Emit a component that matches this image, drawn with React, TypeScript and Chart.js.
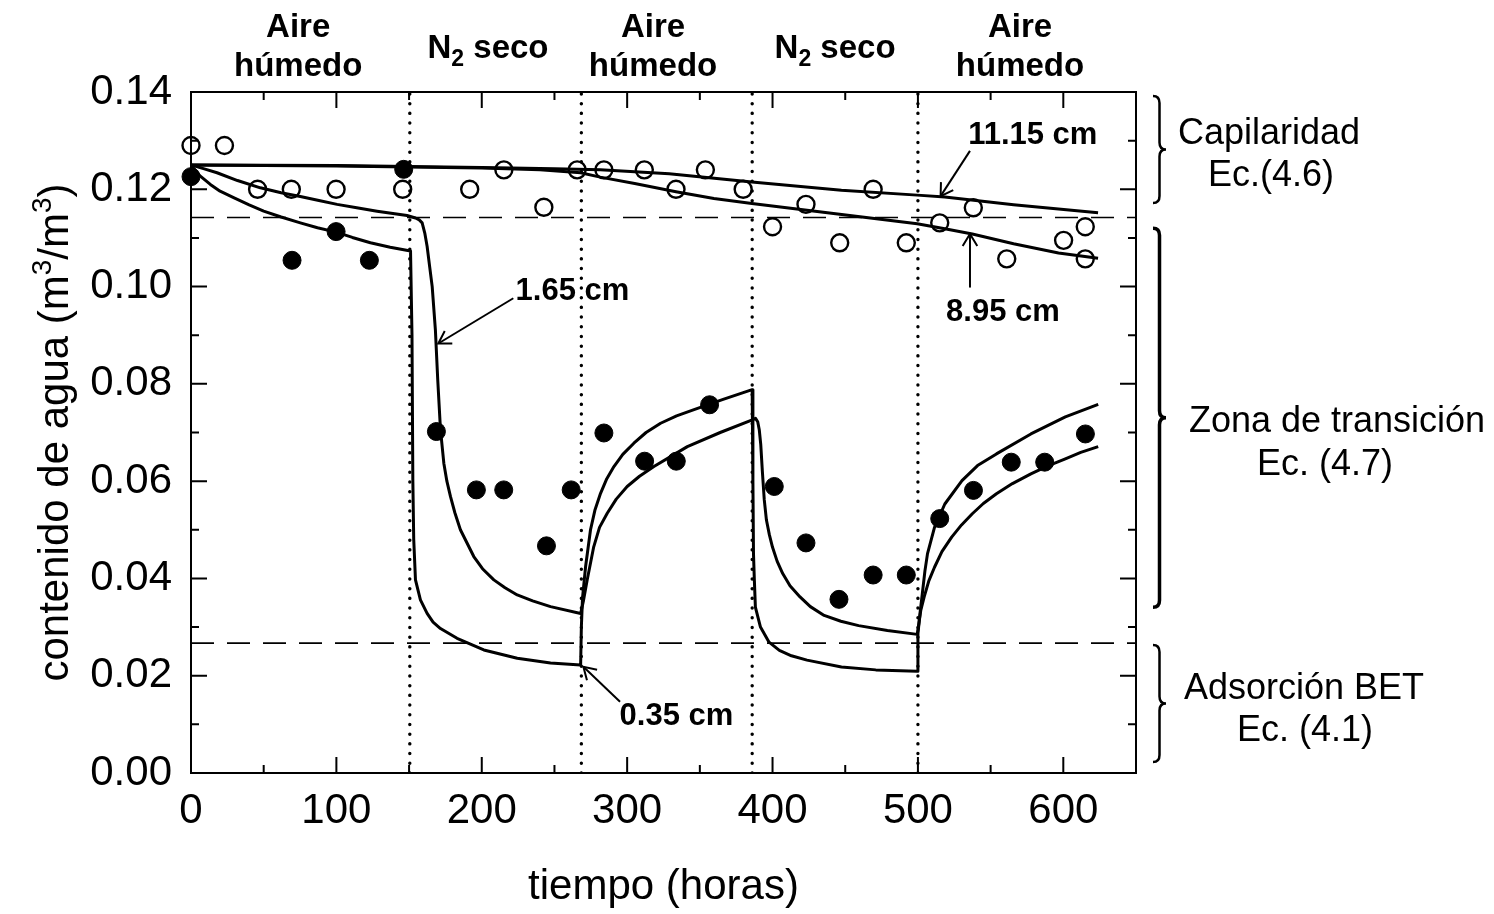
import React, { useEffect, useRef } from "react";
import { Chart, registerables } from "chart.js";

Chart.register(...registerables);

// ---------- axes ----------
const X_MIN = 0;
const X_MAX = 650;
const Y_MIN = 0;
const Y_MAX = 0.14;
const X_MAJOR_TICKS = [0, 100, 200, 300, 400, 500, 600];
const X_MINOR_TICKS = [50, 150, 250, 350, 450, 550];
const Y_MAJOR_TICKS = [0, 0.02, 0.04, 0.06, 0.08, 0.1, 0.12, 0.14];
const Y_MINOR_TICKS = [0.01, 0.03, 0.05, 0.07, 0.09, 0.11, 0.13];

// ---------- measured points ----------
const OPEN_X = [0, 23, 45.8, 69, 99.8, 145.6, 191.7, 215.2, 242.7, 265.6, 284, 311.8, 333.6, 353.8, 379.8, 400, 423, 446.2, 469.2, 492, 515, 538.1, 561.1, 600.2, 615.1, 615.1];
const OPEN_Y = [0.129, 0.129, 0.12, 0.12, 0.12, 0.12, 0.12, 0.124, 0.1163, 0.124, 0.124, 0.124, 0.12, 0.124, 0.12, 0.1123, 0.1169, 0.109, 0.12, 0.109, 0.1131, 0.1162, 0.1057, 0.1095, 0.1123, 0.1057];

const FILLED_X = [0, 69.5, 99.8, 122.7, 146.3, 168.8, 196.3, 215.1, 244.5, 261.5, 284, 312, 333.8, 356.7, 401.2, 423, 445.7, 469.2, 492, 515, 538.2, 564.2, 587.2, 615.2];
const FILLED_Y = [0.1226, 0.1054, 0.1113, 0.1054, 0.1241, 0.0702, 0.0582, 0.0582, 0.0467, 0.0582, 0.0699, 0.0641, 0.0641, 0.0757, 0.0589, 0.0473, 0.0357, 0.0407, 0.0407, 0.0523, 0.0581, 0.0639, 0.0639, 0.0697];

// ---------- model curves ----------
const CURVE_035: [number, number][] = [
  [0, 0.125], [6, 0.1228], [13.3, 0.121], [20, 0.1196], [29.3, 0.1183], [40, 0.1168], [50, 0.1155], [62, 0.1143],
  [75.2, 0.1131], [87, 0.1121], [99.8, 0.1112], [111, 0.1101], [123.4, 0.109], [137, 0.1081], [151, 0.1073],
  [152, 0.09], [152.6, 0.06], [153.2, 0.048], [154.4, 0.0397], [157.8, 0.0356], [162.4, 0.0328], [166.5, 0.031],
  [171.6, 0.0297], [183, 0.0277], [201.4, 0.0253], [224.4, 0.0236], [247.3, 0.0226], [268, 0.0222],
  [268.5, 0.03], [269.3, 0.036], [271.4, 0.0424], [274.8, 0.05], [277.8, 0.054], [281.7, 0.0575], [286, 0.0605],
  [290.9, 0.063], [297, 0.0655], [304.6, 0.0678], [313, 0.07], [323, 0.0719], [334, 0.0734], [346, 0.0747],
  [366, 0.0768], [386, 0.0788], [386.5, 0.06], [386.9, 0.045], [387.5, 0.0396], [388.2, 0.0341], [391.7, 0.03],
  [397.6, 0.0269], [404.7, 0.0252], [413, 0.0241], [423.7, 0.0232], [447.4, 0.0218], [471, 0.0212], [499.5, 0.0209],
  [500, 0.0286], [501.5, 0.033], [503, 0.0368], [504.8, 0.0415], [506.6, 0.0451], [511.4, 0.0505], [518.5, 0.0553],
  [530.3, 0.0601], [541, 0.0632], [554, 0.0656], [577.7, 0.0697], [601.4, 0.0732], [624, 0.0758],
];

const CURVE_165: [number, number][] = [
  [0, 0.125], [8, 0.1243], [17.9, 0.1234], [32, 0.1218], [47.7, 0.1203], [62, 0.1193], [75.2, 0.1185], [88, 0.1177],
  [100.5, 0.1169], [114, 0.1162], [128, 0.1155], [148.6, 0.1146], [154.4, 0.1141], [157, 0.1137], [159, 0.1131],
  [160.8, 0.111], [162.4, 0.1083], [164.2, 0.104], [165.9, 0.1], [168.1, 0.0911], [169.7, 0.0809], [171.6, 0.0706],
  [173.9, 0.0637], [176, 0.06], [178.5, 0.0568], [181.5, 0.0535], [185.3, 0.05], [194.5, 0.0445], [200.5, 0.042],
  [208.3, 0.0397], [216, 0.0381], [224.4, 0.0366], [235, 0.0354], [247.3, 0.0342], [268, 0.0328],
  [270, 0.0355], [272.5, 0.0397], [277, 0.0465], [281, 0.0505], [286.3, 0.0534], [292.5, 0.0563], [300, 0.0589],
  [308.5, 0.061], [318.4, 0.063], [341.4, 0.0671], [364, 0.07], [386.1, 0.0726], [388.3, 0.0729], [389.8, 0.0722],
  [390.9, 0.0705], [391.9, 0.0675], [393, 0.062], [394.3, 0.0562], [395.8, 0.052], [397.8, 0.049], [400, 0.0464],
  [403.2, 0.0435], [407, 0.041], [412, 0.0385], [418.9, 0.0362], [426, 0.0342], [435.5, 0.0324], [447, 0.0312],
  [459.2, 0.0303], [479, 0.0293], [499.5, 0.0285], [500.3, 0.03], [502, 0.0335], [504.3, 0.0362], [507.5, 0.0395],
  [511.4, 0.0423], [516.5, 0.0455], [523.2, 0.0485], [530, 0.051], [537.4, 0.0533], [545, 0.0554], [554, 0.0574],
  [565, 0.0595], [577.7, 0.0615], [589, 0.0631], [601.4, 0.0646], [612, 0.0659], [624, 0.0671],
];

const CURVE_895: [number, number][] = [
  [0, 0.125], [50, 0.1249], [100, 0.1248], [150, 0.1246], [200, 0.1244], [240, 0.124], [268, 0.1234], [281.5, 0.1225],
  [305.2, 0.1212], [333.6, 0.1195], [359.7, 0.1181], [385.8, 0.1171], [423.7, 0.1157], [461.6, 0.1143], [499.5, 0.1129],
  [518.5, 0.1119], [537.4, 0.1108], [565.8, 0.1088], [596.7, 0.1069], [623.9, 0.1058],
];

const CURVE_1115: [number, number][] = [
  [0, 0.125], [100, 0.1249], [150, 0.1247], [200, 0.1245], [250, 0.1242], [281.5, 0.124], [328.9, 0.1232],
  [385.8, 0.1215], [447.4, 0.1198], [499.5, 0.1188], [518.5, 0.1184], [565.8, 0.1168], [623.9, 0.1152],
];

// ---------- reference lines ----------
const SWITCH_TIMES = [150.5, 268.5, 386, 500];
const REGIME_LIMITS = [0.1142, 0.0267];

// ---------- text ----------
const X_TITLE = "tiempo (horas)";
const PHASES = [
  { x: 73.7, kind: "aire" },
  { x: 204.3, kind: "n2" },
  { x: 317.8, kind: "aire" },
  { x: 443, kind: "n2" },
  { x: 570.2, kind: "aire" },
];
const CURVE_NOTES = [
  { text: "1.65 cm", tx: 262.4, ty: 0.0989, fromX: 221.7, fromY: 0.0976, toX: 170.1, toY: 0.0883 },
  { text: "11.15 cm", tx: 579, ty: 0.131, fromX: 535.8, fromY: 0.1279, toX: 515.6, toY: 0.1186 },
  { text: "8.95 cm", tx: 558.5, ty: 0.0947, fromX: 535.8, fromY: 0.0998, toX: 535.8, toY: 0.1108 },
  { text: "0.35 cm", tx: 333.9, ty: 0.01155, fromX: 295.1, fromY: 0.01466, toX: 269.9, toY: 0.02185 },
];
const REGIMES = [
  { top: 0.1392, bottom: 0.1172, lines: ["Capilaridad", "Ec.(4.6)"], cx: [1269, 1271], dy: [-5, 37], heavy: false },
  { top: 0.112, bottom: 0.0341, lines: ["Zona de transición", "Ec. (4.7)"], cx: [1337, 1325], dy: [14.5, 57.5], heavy: true },
  { top: 0.0263, bottom: 0.00226, lines: ["Adsorción BET", "Ec. (4.1)"], cx: [1304, 1305], dy: [-4.5, 37.5], heavy: false },
];

const SANS = '"Liberation Sans", Arial, Helvetica, sans-serif';

function pts(arr: [number, number][]) {
  return arr.map(([x, y]) => ({ x, y }));
}

function drawArrowHead(ctx: CanvasRenderingContext2D, fx: number, fy: number, tx: number, ty: number) {
  const ang = Math.atan2(fy - ty, fx - tx);
  const L = 14;
  const spread = 0.55;
  ctx.beginPath();
  ctx.moveTo(tx + L * Math.cos(ang + spread), ty + L * Math.sin(ang + spread));
  ctx.lineTo(tx, ty);
  ctx.lineTo(tx + L * Math.cos(ang - spread), ty + L * Math.sin(ang - spread));
  ctx.stroke();
}

function drawBrace(ctx: CanvasRenderingContext2D, x: number, top: number, bottom: number, w: number) {
  const mid = (top + bottom) / 2;
  const r = 7;
  const xm = x + w / 2;
  ctx.beginPath();
  ctx.moveTo(x, top);
  ctx.quadraticCurveTo(xm, top, xm, top + r);
  ctx.lineTo(xm, mid - r);
  ctx.quadraticCurveTo(xm, mid, x + w, mid);
  ctx.quadraticCurveTo(xm, mid, xm, mid + r);
  ctx.lineTo(xm, bottom - r);
  ctx.quadraticCurveTo(xm, bottom, x, bottom);
  ctx.stroke();
}

function drawPieces(
  ctx: CanvasRenderingContext2D,
  pieces: { t: string; font: string; dy: number }[],
  cx: number,
  baseline: number
) {
  let total = 0;
  for (const p of pieces) {
    ctx.font = p.font;
    total += ctx.measureText(p.t).width;
  }
  let x = cx - total / 2;
  ctx.textAlign = "left";
  ctx.textBaseline = "alphabetic";
  for (const p of pieces) {
    ctx.font = p.font;
    ctx.fillText(p.t, x, baseline + p.dy);
    x += ctx.measureText(p.t).width;
  }
}

const framePlugin = {
  id: "frameTicks",
  beforeDatasetsDraw(chart: any) {
    const { ctx, chartArea: a, scales } = chart;
    const xs = scales.x;
    const ys = scales.y;
    ctx.save();
    ctx.strokeStyle = "#000";
    ctx.lineWidth = 2;
    ctx.strokeRect(a.left, a.top, a.right - a.left, a.bottom - a.top);
    const tick = (vals: number[], len: number) => {
      for (const v of vals) {
        const px = xs.getPixelForValue(v);
        ctx.beginPath();
        ctx.moveTo(px, a.bottom);
        ctx.lineTo(px, a.bottom - len);
        ctx.moveTo(px, a.top);
        ctx.lineTo(px, a.top + len);
        ctx.stroke();
      }
    };
    const ytick = (vals: number[], len: number) => {
      for (const v of vals) {
        const py = ys.getPixelForValue(v);
        ctx.beginPath();
        ctx.moveTo(a.left, py);
        ctx.lineTo(a.left + len, py);
        ctx.moveTo(a.right, py);
        ctx.lineTo(a.right - len, py);
        ctx.stroke();
      }
    };
    tick(X_MAJOR_TICKS, 16);
    tick(X_MINOR_TICKS, 8);
    ytick(Y_MAJOR_TICKS, 16);
    ytick(Y_MINOR_TICKS, 8);
    ctx.restore();
  },
  afterDraw(chart: any) {
    const { ctx, chartArea: a, scales } = chart;
    const xs = scales.x;
    const ys = scales.y;
    ctx.save();
    ctx.fillStyle = "#000";
    ctx.strokeStyle = "#000";

    // tick labels
    ctx.font = `42px ${SANS}`;
    ctx.textAlign = "center";
    ctx.textBaseline = "middle";
    for (const v of X_MAJOR_TICKS) ctx.fillText(String(v), xs.getPixelForValue(v), a.bottom + 38);
    ctx.textAlign = "right";
    for (const v of Y_MAJOR_TICKS) ctx.fillText(v.toFixed(2), a.left - 19, ys.getPixelForValue(v));

    // x title
    ctx.textAlign = "center";
    ctx.fillText(X_TITLE, (a.left + a.right) / 2, a.bottom + 114);

    // y title (rotated, with superscripts)
    ctx.save();
    ctx.translate(68, (a.top + a.bottom) / 2);
    ctx.rotate(-Math.PI / 2);
    const big = `42px ${SANS}`;
    const sup = `28px ${SANS}`;
    drawPieces(
      ctx,
      [
        { t: "contenido de agua (m", font: big, dy: 0 },
        { t: "3", font: sup, dy: -17 },
        { t: "/m", font: big, dy: 0 },
        { t: "3", font: sup, dy: -17 },
        { t: ")", font: big, dy: 0 },
      ],
      0,
      0
    );
    ctx.restore();

    // phase labels above the plot
    const bold = `bold 33px ${SANS}`;
    const boldSub = `bold 23px ${SANS}`;
    for (const p of PHASES) {
      const cx = xs.getPixelForValue(p.x);
      if (p.kind === "aire") {
        drawPieces(ctx, [{ t: "Aire", font: bold, dy: 0 }], cx, 37);
        drawPieces(ctx, [{ t: "húmedo", font: bold, dy: 0 }], cx, 76);
      } else {
        drawPieces(
          ctx,
          [
            { t: "N", font: bold, dy: 0 },
            { t: "2", font: boldSub, dy: 8 },
            { t: " seco", font: bold, dy: 0 },
          ],
          cx,
          58
        );
      }
    }

    // curve notes with arrows
    ctx.lineWidth = 2;
    for (const n of CURVE_NOTES) {
      ctx.font = `bold 31px ${SANS}`;
      ctx.textAlign = "center";
      ctx.textBaseline = "middle";
      ctx.fillText(n.text, xs.getPixelForValue(n.tx), ys.getPixelForValue(n.ty));
      const fx = xs.getPixelForValue(n.fromX);
      const fy = ys.getPixelForValue(n.fromY);
      const tx = xs.getPixelForValue(n.toX);
      const ty = ys.getPixelForValue(n.toY);
      ctx.beginPath();
      ctx.moveTo(fx, fy);
      ctx.lineTo(tx, ty);
      ctx.stroke();
      drawArrowHead(ctx, fx, fy, tx, ty);
    }

    // regime braces and labels
    const lab = `36px ${SANS}`;
    for (const r of REGIMES) {
      const top = ys.getPixelForValue(r.top);
      const bottom = ys.getPixelForValue(r.bottom);
      ctx.lineWidth = r.heavy ? 3.5 : 2.5;
      drawBrace(ctx, a.right + 17, top, bottom, 13);
      const mid = (top + bottom) / 2;
      drawPieces(ctx, [{ t: r.lines[0], font: lab, dy: 0 }], r.cx[0], mid + r.dy[0]);
      drawPieces(ctx, [{ t: r.lines[1], font: lab, dy: 0 }], r.cx[1], mid + r.dy[1]);
    }
    ctx.restore();
  },
};

export default function App() {
  const ref = useRef<HTMLCanvasElement | null>(null);
  useEffect(() => {
    if (!ref.current) return;
    const lineStyle = {
      showLine: true,
      pointRadius: 0,
      borderColor: "#000",
      borderWidth: 3,
      tension: 0,
      fill: false,
      borderJoinStyle: "round" as const,
    };
    const datasets: any[] = [
      {
        label: "abierto",
        data: OPEN_X.map((x, i) => ({ x, y: OPEN_Y[i] })),
        showLine: false,
        pointRadius: 8.5,
        pointBorderWidth: 2.4,
        pointBackgroundColor: "rgba(0,0,0,0)",
        pointBorderColor: "#000",
        clip: false,
      },
      {
        label: "lleno",
        data: FILLED_X.map((x, i) => ({ x, y: FILLED_Y[i] })),
        showLine: false,
        pointRadius: 9,
        pointBorderWidth: 1,
        pointBackgroundColor: "#000",
        pointBorderColor: "#000",
        clip: false,
      },
      { label: "0.35 cm", data: pts(CURVE_035), ...lineStyle },
      { label: "1.65 cm", data: pts(CURVE_165), ...lineStyle },
      { label: "8.95 cm", data: pts(CURVE_895), ...lineStyle },
      { label: "11.15 cm", data: pts(CURVE_1115), ...lineStyle },
      ...SWITCH_TIMES.map((t) => ({
        label: "cambio",
        data: [
          { x: t, y: Y_MIN },
          { x: t, y: Y_MAX },
        ],
        showLine: true,
        pointRadius: 0,
        borderColor: "#000",
        borderWidth: 3.4,
        borderDash: [0.1, 9.6],
        borderCapStyle: "round",
      })),
      ...REGIME_LIMITS.map((v) => ({
        label: "límite",
        data: [
          { x: X_MIN, y: v },
          { x: X_MAX, y: v },
        ],
        showLine: true,
        pointRadius: 0,
        borderColor: "#000",
        borderWidth: 1.6,
        borderDash: [23, 13],
      })),
    ];
    const chart = new Chart(ref.current, {
      type: "scatter",
      data: { datasets },
      options: {
        animation: false,
        responsive: false,
        events: [],
        layout: { padding: { left: 191, top: 92, right: 358, bottom: 141 } },
        plugins: { legend: { display: false }, tooltip: { enabled: false } },
        scales: {
          x: { type: "linear", min: X_MIN, max: X_MAX, display: false },
          y: { type: "linear", min: Y_MIN, max: Y_MAX, display: false },
        },
      },
      plugins: [framePlugin],
    });
    return () => chart.destroy();
  }, []);
  return (
    <div style={{ position: "absolute", left: 0, top: 0, width: 1494, height: 914, background: "#fff" }}>
      <canvas ref={ref} width={1494} height={914} style={{ width: 1494, height: 914, display: "block" }} />
    </div>
  );
}
